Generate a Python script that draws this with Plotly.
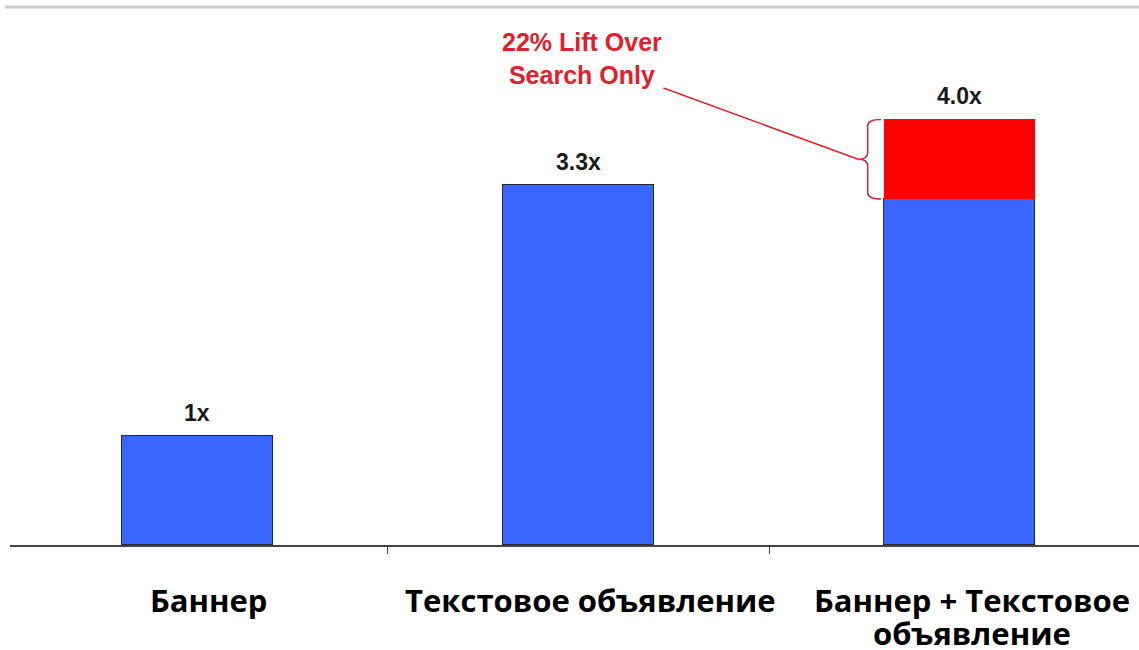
import plotly.graph_objects as go

categories = ["Баннер", "Текстовое объявление", "Баннер + Текстовое<br>объявление"]
base_values = [1.0, 3.3, 3.17]
lift_values = [0, 0, 0.73]
value_labels = ["1x", "3.3x", "4.0x"]
callout_text = "22% Lift Over<br>Search Only"

x_pos = list(range(len(categories)))
bar_width = 0.396
totals = [b + l for b, l in zip(base_values, lift_values)]

BLUE = "#3864ff"
RED = "#ff0000"

fig = go.Figure()
fig.add_trace(go.Bar(
    x=x_pos, y=base_values, width=bar_width,
    marker=dict(color=BLUE, line=dict(color="#23263a", width=1)),
    hoverinfo="skip", showlegend=False,
))
fig.add_trace(go.Bar(
    x=x_pos, y=lift_values, width=bar_width,
    marker=dict(color=RED, line=dict(color=RED, width=0)),
    hoverinfo="skip", showlegend=False,
))

# value labels above bars
for xi, tot, lab in zip(x_pos, totals, value_labels):
    fig.add_annotation(
        x=xi, y=tot, text=f"<b>{lab}</b>", showarrow=False,
        yanchor="bottom", yshift=8,
        font=dict(family="Liberation Sans, Arial", size=23, color="#1a1a1a"),
    )

# category labels below the axis (one annotation per text line)
for xi, cat in zip(x_pos, categories):
    for k, line in enumerate(cat.split("<br>")):
        fig.add_annotation(
            x=xi, xref="x", y=0, yref="paper", text=f"<b>{line}</b>",
            showarrow=False, yanchor="middle", xshift=12, yshift=-55 - 33 * k,
            font=dict(family="Open Sans", size=31, color="#000000"),
        )

# bracket next to the lift segment of the last bar
i = len(categories) - 1
xl = i - bar_width / 2
top = totals[i]
bot = base_values[i]
mid = (top + bot) / 2
dx_end = -0.008
dx_v = -0.043
dx_tip = -0.068
cy = 0.06
path = (
    f"M {xl + dx_end},{top} "
    f"Q {xl + dx_v},{top} {xl + dx_v},{top - cy} "
    f"L {xl + dx_v},{mid + cy} "
    f"Q {xl + dx_v},{mid} {xl + dx_tip},{mid} "
    f"Q {xl + dx_v},{mid} {xl + dx_v},{mid - cy} "
    f"L {xl + dx_v},{bot + cy} "
    f"Q {xl + dx_v},{bot} {xl + dx_end},{bot}"
)
fig.add_shape(type="path", path=path, xref="x", yref="y",
              line=dict(color="#c8283c", width=1.5))

# callout text with connector line to the bracket tip
fig.add_annotation(
    x=xl + dx_tip, y=mid, ax=1.009, ay=4.46, axref="x", ayref="y",
    text=f"<b>{callout_text}</b>", showarrow=True, arrowhead=0,
    arrowcolor="#e0202a", arrowwidth=1.5, standoff=0,
    font=dict(family="Liberation Sans, Arial", size=25, color="#e0202a"),
)

# top light gray rule
fig.add_shape(type="line", xref="paper", yref="paper", x0=-0.0045, x1=1, y0=1, y1=1,
              line=dict(color="#cdcdcd", width=3))

fig.update_layout(
    width=1139, height=650,
    margin=dict(l=10, r=0, t=7, b=105, autoexpand=False),
    paper_bgcolor="white", plot_bgcolor="white",
    barmode="stack", bargap=0,
)
fig.update_xaxes(
    range=[-0.492, 2.471], tickmode="array", tickvals=x_pos,
    showticklabels=False, ticks="", showgrid=False, zeroline=False, automargin=False,
    showline=True, linecolor="#444444", linewidth=2,
    minor=dict(tickmode="array", tickvals=[0.5, 1.5], ticks="outside", ticklen=7,
               tickcolor="#444444", tickwidth=1, showgrid=False),
)
fig.update_yaxes(range=[0, 4.93], visible=False, showgrid=False, zeroline=False,
                 automargin=False)

fig.write_html("out.html", config={"displayModeBar": False},
               post_script="document.body.style.margin='0';")
